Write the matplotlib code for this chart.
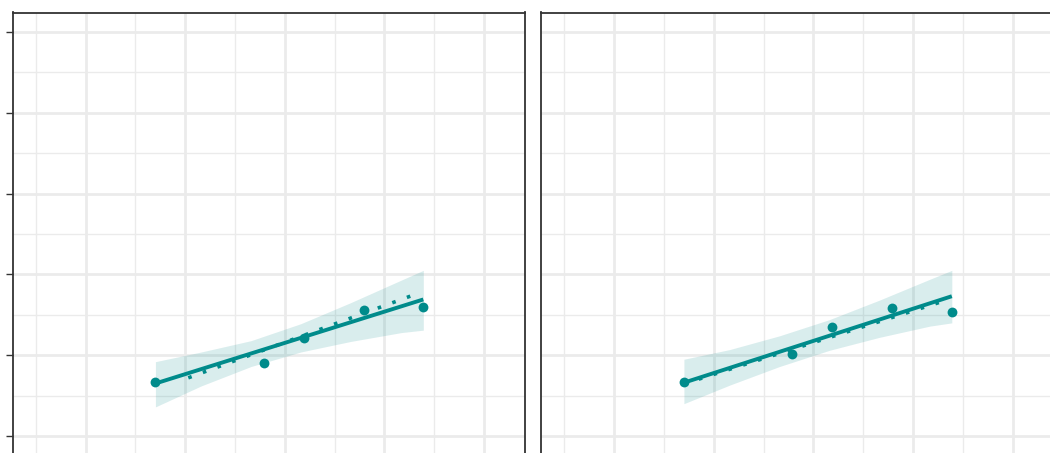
import matplotlib.pyplot as plt


OUTPUT_PATH = "out.png"
TEAL = "#008B8B"

# observed points (same x positions in both panels)
x_points = [1.70, 2.79, 3.19, 3.79, 4.39]
left_y = [0.67, 0.90, 1.21, 1.56, 1.60]
right_y = [0.67, 1.01, 1.35, 1.59, 1.53]

# fitted lines (solid) and comparison lines (dotted), start/end
left_fit_x = [1.70, 4.39]
left_fit_y = [0.65, 1.69]
left_dot_x = [2.03, 4.28]
left_dot_y = [0.72, 1.74]
right_fit_x = [1.70, 4.39]
right_fit_y = [0.66, 1.73]
right_dot_x = [1.70, 4.32]
right_dot_y = [0.645, 1.675]

# confidence band read at a few x positions
band_x = [1.70, 2.16, 2.66, 3.16, 3.66, 4.17, 4.39]
left_band_lo = [0.36, 0.62, 0.86, 1.04, 1.17, 1.28, 1.31]
left_band_hi = [0.92, 1.04, 1.18, 1.39, 1.65, 1.93, 2.05]
right_band_lo = [0.40, 0.63, 0.86, 1.06, 1.22, 1.36, 1.40]
right_band_hi = [0.95, 1.07, 1.24, 1.44, 1.68, 1.94, 2.05]

x_major = [1, 2, 3, 4, 5]
x_minor = [0.5, 1.5, 2.5, 3.5, 4.5, 5.5]
y_major = [0, 1, 2, 3, 4, 5]
y_minor = [-0.5, 0.5, 1.5, 2.5, 3.5, 4.5]

XLIM = (0.268, 5.411)
YLIM = (-0.6, 5.241)


def style_panel(ax, show_ticks):
    ax.set_xticks(x_major)
    ax.set_xticks(x_minor, minor=True)
    ax.set_yticks(y_major)
    ax.set_yticks(y_minor, minor=True)
    # limits after ticks, set_xticks would widen them otherwise
    ax.set_xlim(*XLIM)
    ax.set_ylim(*YLIM)
    ax.set_axisbelow(True)
    ax.grid(which="major", color="#EBEBEB", linewidth=2.0)
    ax.grid(which="minor", color="#EBEBEB", linewidth=1.0)
    ax.tick_params(which="both", labelleft=False, labelbottom=False)
    ax.tick_params(which="minor", length=0)
    ax.tick_params(axis="x", which="major", length=0)
    if show_ticks:
        ax.tick_params(axis="y", which="major", length=5, width=1.0, color="#333333")
    else:
        ax.tick_params(axis="y", which="major", length=0)
    for spine in ax.spines.values():
        spine.set_color("#333333")
        spine.set_linewidth(1.3)


def draw_panel(ax, y, fit_x, fit_y, dot_x, dot_y, lo, hi):
    ax.fill_between(band_x, lo, hi, color=TEAL, alpha=0.15, linewidth=0, zorder=2)
    ax.plot(dot_x, dot_y, color=TEAL, linewidth=2.6, linestyle=(0, (1.0, 3.3)), zorder=3)
    ax.plot(fit_x, fit_y, color=TEAL, linewidth=2.8, solid_capstyle="butt", zorder=4)
    ax.scatter(x_points, y, s=50, color=TEAL, linewidths=0, zorder=5)


def main() -> None:
    W, H = 1050, 453
    fig = plt.figure(figsize=(W / 100, H / 100), dpi=100)
    top_px, bottom_px = 12.5, 484.5
    width_px = 512.2
    h = (bottom_px - top_px) / H
    b = 1 - bottom_px / H

    ax1 = fig.add_axes([12.8 / W, b, width_px / W, h])
    ax2 = fig.add_axes([541.3 / W, b, width_px / W, h])

    style_panel(ax1, True)
    style_panel(ax2, False)
    draw_panel(ax1, left_y, left_fit_x, left_fit_y, left_dot_x, left_dot_y,
               left_band_lo, left_band_hi)
    draw_panel(ax2, right_y, right_fit_x, right_fit_y, right_dot_x, right_dot_y,
               right_band_lo, right_band_hi)

    fig.savefig(OUTPUT_PATH, dpi=100)


if __name__ == "__main__":
    main()
